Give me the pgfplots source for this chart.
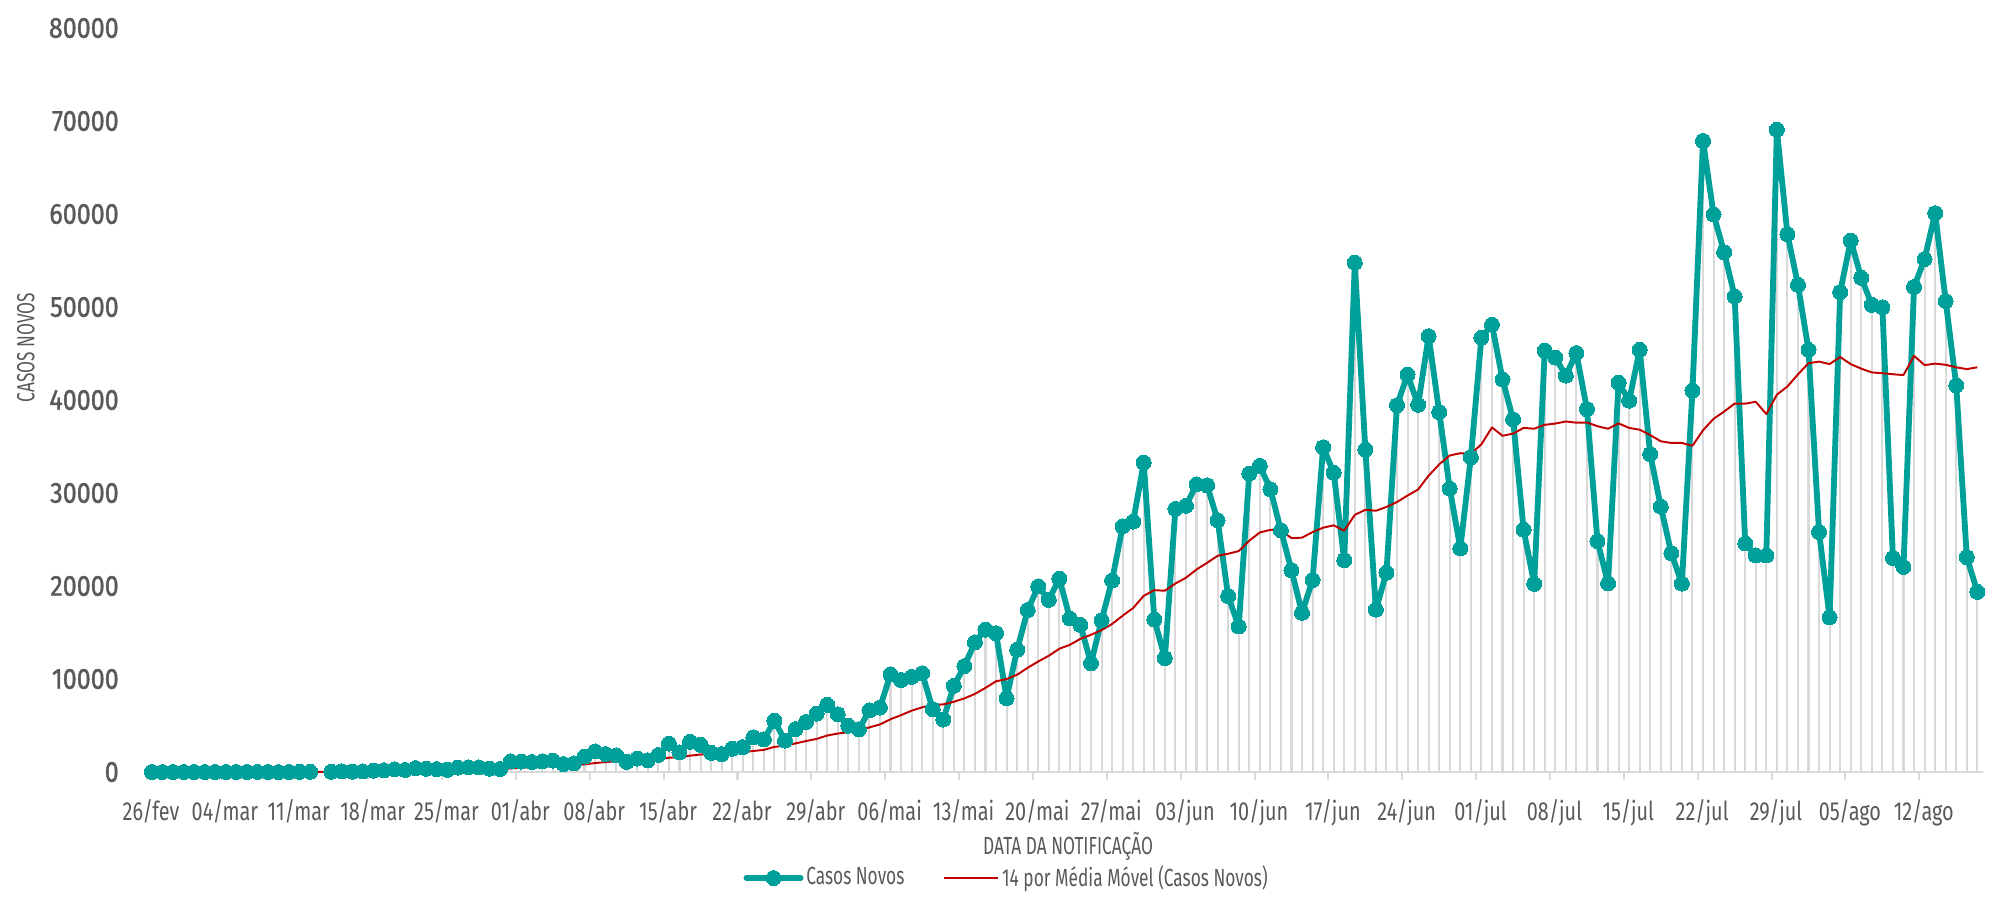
\documentclass[border=0pt]{standalone}
\usepackage{fontspec}
\setmainfont{Fira Sans}
\newfontfamily\yfont[FakeStretch=0.86, FakeBold=1.2]{Fira Sans}
\newfontfamily\xfont[FakeStretch=0.76]{Fira Sans}
\newfontfamily\cfont[FakeStretch=0.70]{Fira Sans}
\usepackage{pgfplots}
\usepackage{pgfplotstable}
\pgfplotsset{compat=1.18}

\definecolor{casos}{RGB}{0,160,154}
\definecolor{mmred}{RGB}{192,0,0}
\definecolor{dropgray}{RGB}{217,217,217}
\definecolor{txtgray}{RGB}{89,89,89}

% dia (0 = 26/fev), casos novos, media movel 14 dias
\pgfplotstableread{
d casos mm
0 1 nan
1 0 nan
2 0 nan
3 1 nan
4 0 nan
5 0 nan
6 0 nan
7 1 nan
8 5 nan
9 5 nan
10 6 nan
11 6 nan
12 0 nan
13 9 2.4
14 18 3.6
15 25 5.4
16 nan 5.4
17 23 7.0
18 79 12.6
19 34 15.1
20 57 19.1
21 137 28.9
22 193 42.3
23 283 62.1
24 224 77.7
25 418 107.1
26 345 131.8
27 310 153.3
28 232 168.6
29 482 201.2
30 502 237.1
31 487 270.2
32 352 289.7
33 323 310.4
34 1138 387.6
35 1119 457.7
36 1074 520.6
37 1146 582.3
38 1222 653.6
39 852 684.6
40 926 726.1
41 1661 822.6
42 2210 963.9
43 1930 1067.3
44 1781 1158.6
45 1089 1201.6
46 1442 1279.5
47 1261 1346.5
48 1832 1396.1
49 3058 1534.6
50 2105 1608.2
51 3257 1759.0
52 2917 1880.1
53 2055 1966.0
54 1927 2037.5
55 2498 2097.3
56 2678 2130.7
57 3735 2259.6
58 3503 2382.6
59 5514 2698.7
60 3379 2837.1
61 4613 3076.5
62 5385 3330.3
63 6276 3560.1
64 7218 3925.4
65 6209 4136.2
66 4970 4282.9
67 4588 4463.8
68 6633 4799.9
69 6935 5116.9
70 10503 5675.8
71 9888 6115.3
72 10222 6595.2
73 10611 6959.3
74 6760 7200.8
75 5632 7273.6
76 9258 7550.2
77 11385 7915.1
78 13944 8395.6
79 15305 9045.3
80 14919 9755.9
81 7938 9995.2
82 13140 10460.0
83 17408 11208.1
84 19951 11882.9
85 18508 12498.6
86 20803 13254.4
87 16508 13675.6
88 15813 14322.3
89 11687 14754.8
90 16324 15259.5
91 20599 15917.6
92 26417 16808.6
93 26928 17638.8
94 33274 18949.9
95 16409 19554.9
96 12247 19491.1
97 28287 20268.2
98 28633 20888.4
99 30925 21775.3
100 30830 22491.5
101 27075 23246.3
102 18912 23467.6
103 15654 23751.0
104 32091 24877.2
105 32913 25756.8
106 30412 26042.1
107 25982 25974.6
108 21704 25148.1
109 17110 25198.2
110 20647 25798.2
111 34918 26271.9
112 32188 26525.8
113 22765 25942.9
114 54771 27653.0
115 34666 28195.2
116 17459 28091.4
117 21432 28504.1
118 39436 29028.8
119 42725 29729.6
120 39483 30377.6
121 46860 31868.9
122 38693 33082.4
123 30476 34037.1
124 24052 34280.3
125 33846 34203.7
126 46712 35241.1
127 48105 37051.1
128 42223 36154.9
129 37923 36387.5
130 26051 37001.2
131 20229 36915.3
132 45305 37334.5
133 44571 37466.4
134 42619 37690.4
135 45048 37560.9
136 39023 37584.5
137 24831 37181.3
138 20286 36912.3
139 41857 37484.5
140 39924 36999.6
141 45403 36806.6
142 34177 36231.9
143 28532 35561.1
144 23529 35381.0
145 20257 35383.0
146 41008 35076.1
147 67860 36739.6
148 59961 37978.3
149 55891 38752.8
150 51147 39618.8
151 24578 39600.7
152 23284 39814.9
153 23284 38488.2
154 69074 40570.4
155 57837 41458.5
156 52383 42758.9
157 45392 43963.2
158 25800 44125.4
159 16641 43867.1
160 51603 44623.9
161 57152 43859.1
162 53139 43371.8
163 50230 42967.4
164 49970 42883.4
165 23010 42771.4
166 22048 42683.1
167 52160 44745.6
168 55155 43751.4
169 60091 43912.4
170 50644 43788.2
171 41576 43515.6
172 23101 43322.9
173 19373 43518.0
}\dados

\begin{document}
\begin{tikzpicture}
\begin{axis}[
    at={(0,0)}, anchor=south west,
    scale only axis,
    width=660.96pt, height=267.84pt,
    xmin=-0.5, xmax=173.5,
    ymin=0, ymax=80000,
    clip=false,
    unbounded coords=jump,
    axis x line*=bottom, axis y line*=left,
    y axis line style={draw=none},
    x axis line style={draw=dropgray, line width=0.75pt},
    xtick={-0.5,6.5,...,167.5},
    xticklabels={26/fev,04/mar,11/mar,18/mar,25/mar,01/abr,08/abr,15/abr,22/abr,29/abr,06/mai,13/mai,20/mai,27/mai,03/jun,10/jun,17/jun,24/jun,01/jul,08/jul,15/jul,22/jul,29/jul,05/ago,12/ago},
    xtick style={draw=dropgray, line width=0.75pt},
    tick align=outside,
    major tick length=2.9pt,
    xticklabel style={font=\xfont\fontsize{9.4}{10}\selectfont, text=txtgray, xshift=1.6pt, yshift=-3.4pt},
    ytick={0,10000,...,80000},
    ytick style={draw=none},
    scaled y ticks=false,
    yticklabel style={font=\yfont\fontsize{10.5}{12}\selectfont, text=txtgray, xshift=-3.6pt,
        /pgf/number format/1000 sep={}, /pgf/number format/assume math mode=true},
    xlabel={DATA DA NOTIFICAÇÃO},
    xlabel style={font=\cfont\fontsize{8.9}{10}\selectfont, text=txtgray,
        at={(axis description cs:0.5019,-0.0993)}, anchor=center},
    ylabel={CASOS NOVOS},
    ylabel style={font=\cfont\fontsize{8.9}{10}\selectfont, text=txtgray,
        at={(axis description cs:-0.0657,0.5706)}, anchor=center},
    legend columns=2,
    legend style={at={(axis description cs:0.4686,-0.1425)}, anchor=center,
        draw=none, fill=none, font=\cfont\fontsize{8.9}{10}\selectfont, text=txtgray,
        nodes={inner xsep=1pt},
        /tikz/every even column/.append style={column sep=13pt}},
    legend image code/.code={\draw[mark repeat=2,mark phase=2,#1] plot coordinates {(0pt,0pt) (9.75pt,0pt) (19.5pt,0pt)};},
]
% linhas de queda
\addplot[ycomb, draw=dropgray, line width=0.75pt, forget plot] table[x=d, y=casos]{\dados};
% casos novos
\addplot[color=casos, line width=2.1pt, line join=round, line cap=round, mark=*, mark size=2.7pt,
    mark options={solid, fill=casos, draw=casos, line width=0pt}] table[x=d, y=casos]{\dados};
\addlegendentry{Casos Novos}
% media movel
\addplot[color=mmred, line width=0.7pt, line join=round] table[x=d, y=mm]{\dados};
\addlegendentry{14 por Média Móvel (Casos Novos)}
\end{axis}
\pgfresetboundingbox
\path[use as bounding box] (-52.78pt,-49.68pt) rectangle (670.10pt,277.92pt);
\end{tikzpicture}
\end{document}
